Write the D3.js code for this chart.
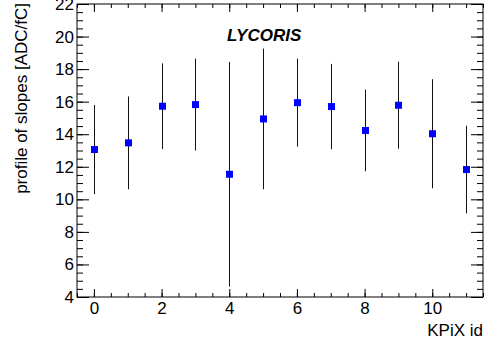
<!DOCTYPE html>
<html>
<head>
<meta charset="utf-8">
<script src="https://cdn.jsdelivr.net/npm/d3@7"></script>
<style>
  html, body { margin: 0; padding: 0; background: #fff; }
  svg { display: block; font-family: "Liberation Sans", Arial, Helvetica, sans-serif; }
</style>
</head>
<body>
<svg id="chart" width="484" height="350"></svg>
<script>
// KPiX chip ids and the profile of the gain slopes per chip
const kpixIds = [0, 1, 2, 3, 4, 5, 6, 7, 8, 9, 10, 11];
const slopeMeans = [13.06, 13.47, 15.72, 15.82, 11.54, 14.94, 15.94, 15.70, 14.23, 15.78, 14.03, 11.83];
const slopeErrors = [2.74, 2.85, 2.63, 2.82, 6.90, 4.32, 2.70, 2.62, 2.51, 2.67, 3.35, 2.69];

const xMajorTicks = [0, 2, 4, 6, 8, 10];
const yMajorTicks = [4, 6, 8, 10, 12, 14, 16, 18, 20, 22];

const svg = d3.select("#chart");
const W = 484, H = 350;
const frame = { left: 77, right: 483, top: 4, bottom: 297 };
const fontStack = "'Liberation Sans', Arial, sans-serif";

svg.append("rect").attr("width", W).attr("height", H).attr("fill", "#fff");

const x = d3.scaleLinear().domain([-0.5, 11.5]).range([frame.left, frame.right]);
const y = d3.scaleLinear().domain([4, 22]).range([frame.bottom, frame.top]);

const xMinor = d3.range(-0.5, 11.5001, 0.5);
const yMinor = d3.range(4, 22.0001, 0.5);

function styleAxis(g, fontSize) {
  g.select(".domain").remove();
  g.selectAll(".tick line").attr("stroke", "#000").attr("stroke-width", 1);
  g.selectAll(".tick text").attr("fill", "#000").attr("font-size", fontSize)
    .attr("font-family", fontStack);
}

// bottom axis: minor then major ticks pointing inward
svg.append("g").attr("transform", `translate(0,${frame.bottom})`)
  .call(d3.axisBottom(x).tickValues(xMinor).tickSize(-4).tickFormat(""))
  .call(g => styleAxis(g, 0));
svg.append("g").attr("transform", `translate(0,${frame.bottom})`)
  .call(d3.axisBottom(x).tickValues(xMajorTicks).tickSize(-8).tickPadding(5).tickFormat(d3.format("d")))
  .call(g => styleAxis(g, 17));

// top axis
svg.append("g").attr("transform", `translate(0,${frame.top})`)
  .call(d3.axisTop(x).tickValues(xMinor).tickSize(-4).tickFormat(""))
  .call(g => styleAxis(g, 0));
svg.append("g").attr("transform", `translate(0,${frame.top})`)
  .call(d3.axisTop(x).tickValues(xMajorTicks).tickSize(-8).tickFormat(""))
  .call(g => styleAxis(g, 0));

// left axis
svg.append("g").attr("transform", `translate(${frame.left},0)`)
  .call(d3.axisLeft(y).tickValues(yMinor).tickSize(-6).tickFormat(""))
  .call(g => styleAxis(g, 0));
svg.append("g").attr("transform", `translate(${frame.left},0)`)
  .call(d3.axisLeft(y).tickValues(yMajorTicks).tickSize(-12).tickPadding(3).tickFormat(d3.format("d")))
  .call(g => styleAxis(g, 17));

// right axis
svg.append("g").attr("transform", `translate(${frame.right},0)`)
  .call(d3.axisRight(y).tickValues(yMinor).tickSize(-6).tickFormat(""))
  .call(g => styleAxis(g, 0));
svg.append("g").attr("transform", `translate(${frame.right},0)`)
  .call(d3.axisRight(y).tickValues(yMajorTicks).tickSize(-12).tickFormat(""))
  .call(g => styleAxis(g, 0));

// frame
svg.append("rect")
  .attr("x", frame.left).attr("y", frame.top)
  .attr("width", frame.right - frame.left).attr("height", frame.bottom - frame.top)
  .attr("fill", "none").attr("stroke", "#000").attr("stroke-width", 1);

// profile points with error bars
const points = kpixIds.map((id, i) => ({ id, mean: slopeMeans[i], err: slopeErrors[i] }));

svg.append("g").selectAll("line").data(points).join("line")
  .attr("x1", d => Math.round(x(d.id)) + 0.5)
  .attr("x2", d => Math.round(x(d.id)) + 0.5)
  .attr("y1", d => y(d.mean + d.err))
  .attr("y2", d => y(d.mean - d.err))
  .attr("stroke", "#111").attr("stroke-width", 1);

const m = 7;
svg.append("g").selectAll("rect").data(points).join("rect")
  .attr("x", d => Math.round(x(d.id)) + 0.5 - m / 2)
  .attr("y", d => y(d.mean) - m / 2)
  .attr("width", m).attr("height", m)
  .attr("fill", "#0000ff");

// axis titles
svg.append("text")
  .attr("x", frame.right).attr("y", 336)
  .attr("text-anchor", "end").attr("font-size", 17)
  .text("KPiX id");

svg.append("text")
  .attr("transform", "translate(27,3) rotate(-90)")
  .attr("text-anchor", "end").attr("font-size", 17)
  .text("profile of slopes [ADC/fC]");

// label
svg.append("text")
  .attr("x", 227).attr("y", 41)
  .attr("font-size", 17).attr("font-weight", "bold").attr("font-style", "italic")
  .text("LYCORIS");
</script>
</body>
</html>
